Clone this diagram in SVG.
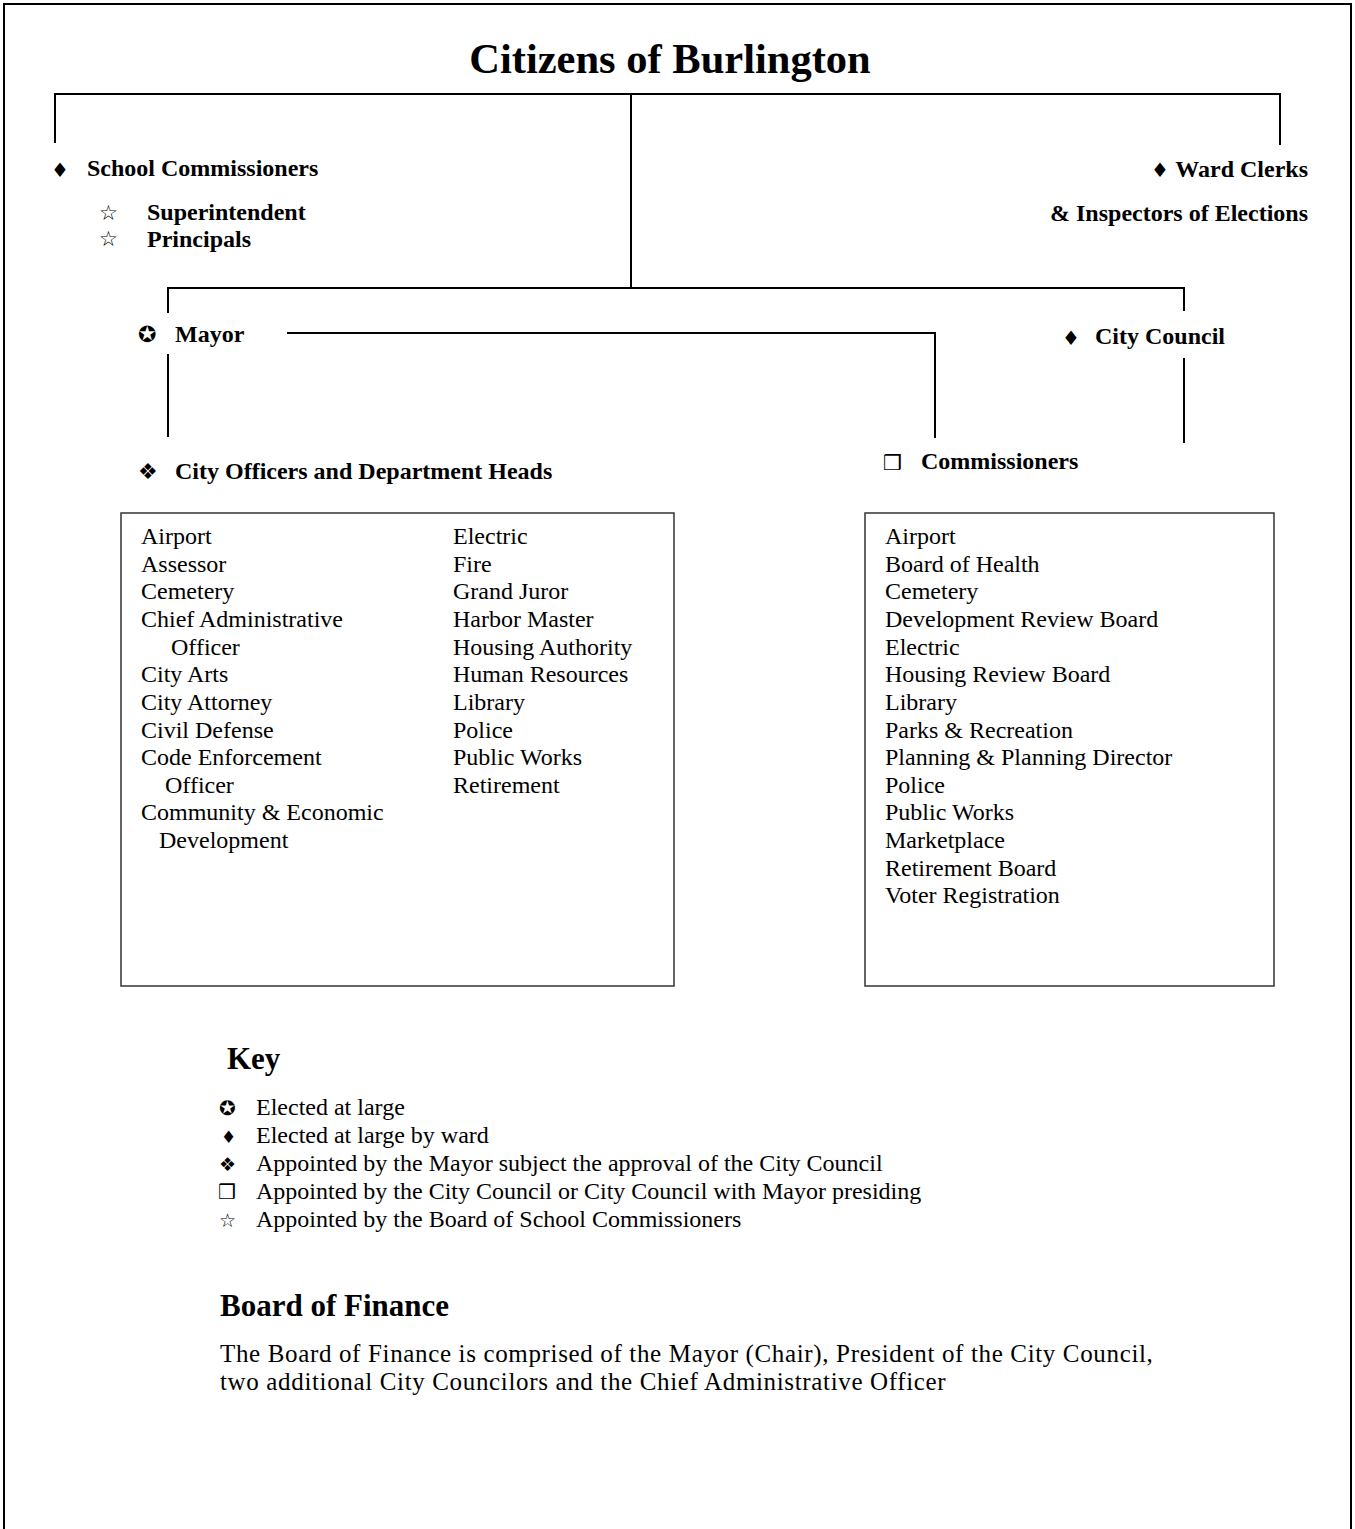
<svg xmlns="http://www.w3.org/2000/svg" width="1355" height="1529" viewBox="0 0 1355 1529">
<style>
.ln{stroke:#000;stroke-width:2;fill:none}
.box{stroke:#333;stroke-width:1.5;fill:#fff}
.h{font-family:"Liberation Serif","Times New Roman",serif;font-weight:bold;font-size:24px;fill:#000}
.t{font-family:"Liberation Serif","Times New Roman",serif;font-size:24px;fill:#000}
.k{font-family:"Liberation Serif","Times New Roman",serif;font-size:24px;fill:#000}
.p{font-family:"Liberation Serif","Times New Roman",serif;font-size:25px;letter-spacing:0.65px;fill:#000}
.hh{font-family:"Liberation Serif","Times New Roman",serif;font-weight:bold;font-size:31px;fill:#000}
.s{font-family:"DejaVu Sans",sans-serif;fill:#000}
</style>
<rect x="0" y="0" width="1355" height="1529" fill="#fff"/>
<path class="ln" d="M4,1529 V4 H1351 V1529"/>
<g id="connectors">
<path class="ln" d="M55,143 V94 H1280 V145"/>
<path class="ln" d="M631,94 V287"/>
<path class="ln" d="M168,313 V288 H1184 V311"/>
<path class="ln" d="M287,333 H935 V438"/>
<path class="ln" d="M168,354 V437"/>
<path class="ln" d="M1184,358 V443"/>
</g>
<g id="title"><text class="h" x="670" y="73" text-anchor="middle" style="font-size:42.5px">Citizens of Burlington</text></g>
<g id="school-commissioners">
<text class="s" x="51" y="177" font-size="20">♦</text>
<text class="h" x="87" y="176">School Commissioners</text>
<text class="s" x="99" y="220" font-size="21">☆</text>
<text class="h" x="147" y="220">Superintendent</text>
<text class="s" x="99" y="246" font-size="21">☆</text>
<text class="h" x="147" y="247">Principals</text>
</g>
<g id="ward-clerks">
<text class="s" x="1151" y="177" font-size="20">♦</text>
<text class="h" x="1308" y="177" text-anchor="end">Ward Clerks</text>
<text class="h" x="1308" y="221" text-anchor="end">&amp; Inspectors of Elections</text>
</g>
<g id="mayor">
<text class="s" x="138" y="342" font-size="22">✪</text>
<text class="h" x="175" y="342">Mayor</text>
</g>
<g id="city-council">
<text class="s" x="1062" y="345" font-size="20">♦</text>
<text class="h" x="1095" y="344">City Council</text>
</g>
<g id="city-officers">
<text class="s" x="138" y="479" font-size="22">❖</text>
<text class="h" x="175" y="479">City Officers and Department Heads</text>
<rect class="box" x="121" y="513" width="553" height="473"/>
<text class="t" x="141" y="544">Airport</text>
<text class="t" x="141" y="572">Assessor</text>
<text class="t" x="141" y="599">Cemetery</text>
<text class="t" x="141" y="627">Chief Administrative</text>
<text class="t" x="171" y="655">Officer</text>
<text class="t" x="141" y="682">City Arts</text>
<text class="t" x="141" y="710">City Attorney</text>
<text class="t" x="141" y="738">Civil Defense</text>
<text class="t" x="141" y="765">Code Enforcement</text>
<text class="t" x="165" y="793">Officer</text>
<text class="t" x="141" y="820">Community &amp; Economic</text>
<text class="t" x="159" y="848">Development</text>
<text class="t" x="453" y="544">Electric</text>
<text class="t" x="453" y="572">Fire</text>
<text class="t" x="453" y="599">Grand Juror</text>
<text class="t" x="453" y="627">Harbor Master</text>
<text class="t" x="453" y="655">Housing Authority</text>
<text class="t" x="453" y="682">Human Resources</text>
<text class="t" x="453" y="710">Library</text>
<text class="t" x="453" y="738">Police</text>
<text class="t" x="453" y="765">Public Works</text>
<text class="t" x="453" y="793">Retirement</text>
</g>
<g id="commissioners">
<text class="s" x="883" y="470" font-size="21">❒</text>
<text class="h" x="921" y="469">Commissioners</text>
<rect class="box" x="865" y="513" width="409" height="473"/>
<text class="t" x="885" y="544">Airport</text>
<text class="t" x="885" y="572">Board of Health</text>
<text class="t" x="885" y="599">Cemetery</text>
<text class="t" x="885" y="627">Development Review Board</text>
<text class="t" x="885" y="655">Electric</text>
<text class="t" x="885" y="682">Housing Review Board</text>
<text class="t" x="885" y="710">Library</text>
<text class="t" x="885" y="738">Parks &amp; Recreation</text>
<text class="t" x="885" y="765">Planning &amp; Planning Director</text>
<text class="t" x="885" y="793">Police</text>
<text class="t" x="885" y="820">Public Works</text>
<text class="t" x="885" y="848">Marketplace</text>
<text class="t" x="885" y="876">Retirement Board</text>
<text class="t" x="885" y="903">Voter Registration</text>
</g>
<g id="key">
<text class="hh" x="227" y="1069">Key</text>
<text class="s" x="219" y="1115" font-size="20">✪</text>
<text class="k" x="256" y="1115">Elected at large</text>
<text class="s" x="221" y="1143" font-size="17">♦</text>
<text class="k" x="256" y="1143">Elected at large by ward</text>
<text class="s" x="219" y="1171" font-size="19">❖</text>
<text class="k" x="256" y="1171">Appointed by the Mayor subject the approval of the City Council</text>
<text class="s" x="218" y="1199" font-size="20">❒</text>
<text class="k" x="256" y="1199">Appointed by the City Council or City Council with Mayor presiding</text>
<text class="s" x="219" y="1227" font-size="19">☆</text>
<text class="k" x="256" y="1227">Appointed by the Board of School Commissioners</text>
</g>
<g id="board-of-finance">
<text class="hh" x="220" y="1316">Board of Finance</text>
<text class="p" x="220" y="1362">The Board of Finance is comprised of the Mayor (Chair), President of the City Council,</text>
<text class="p" x="220" y="1390">two additional City Councilors and the Chief Administrative Officer</text>
</g>
</svg>
